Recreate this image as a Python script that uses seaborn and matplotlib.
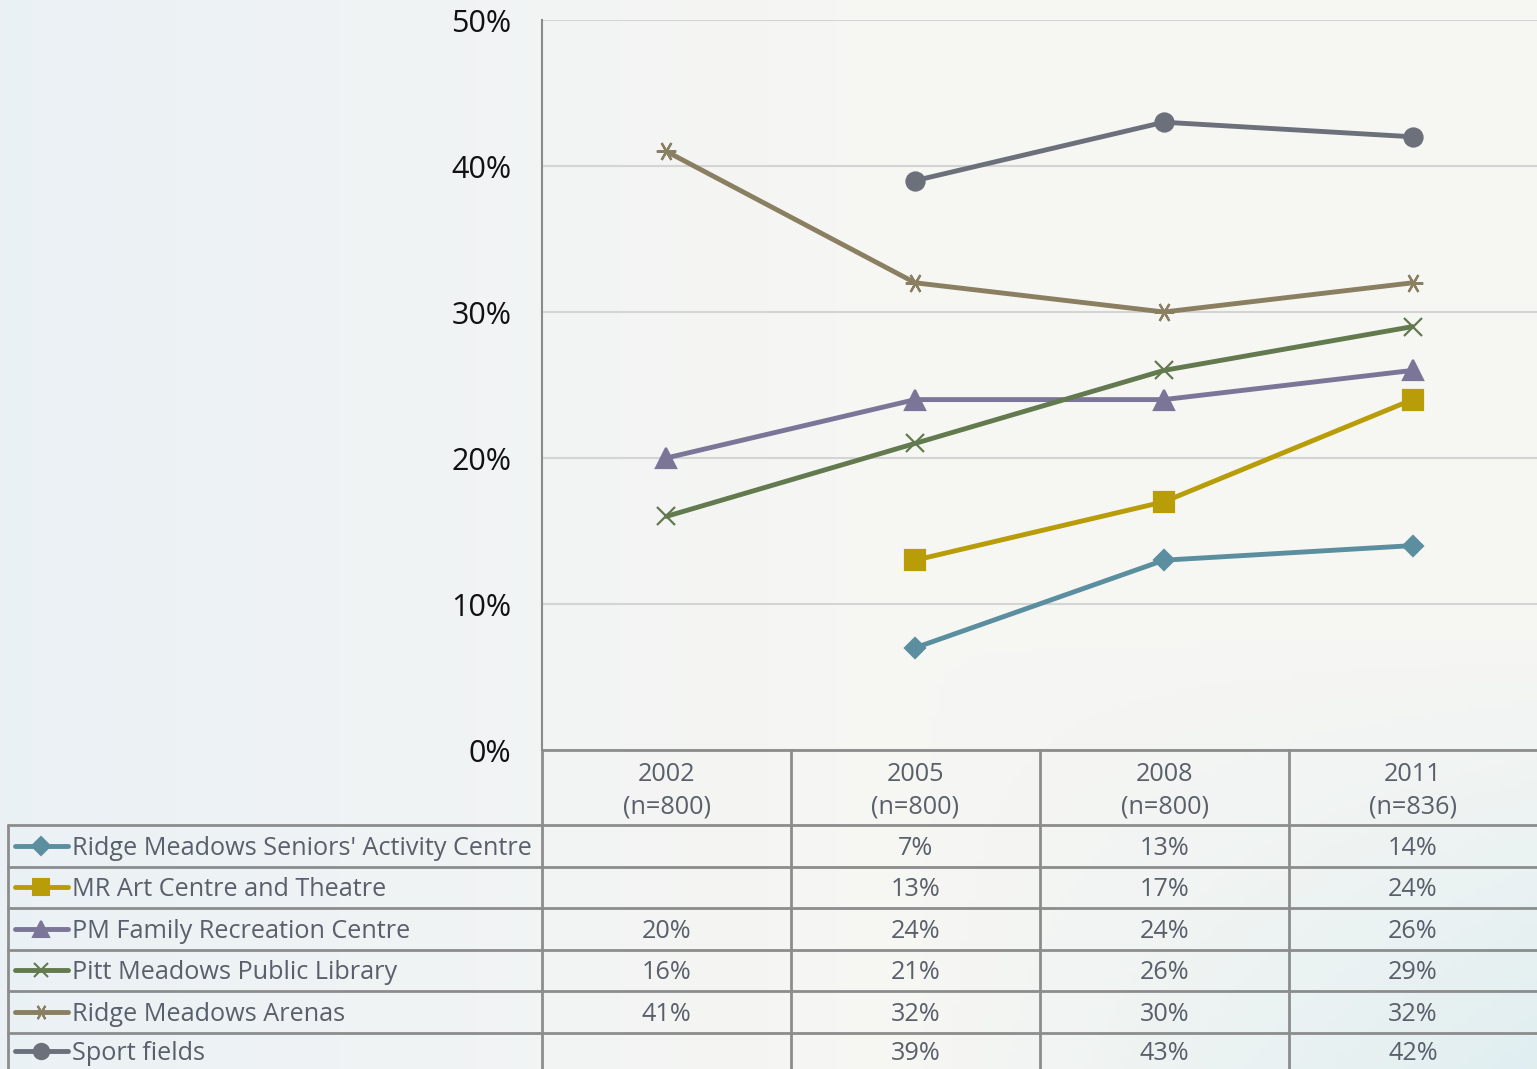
import numpy as np
import pandas as pd
import matplotlib
matplotlib.use("Agg")
import matplotlib.pyplot as plt
import seaborn as sns

# ---------------- data ----------------
years = ["2002", "2005", "2008", "2011"]
sample_sizes = ["(n=800)", "(n=800)", "(n=800)", "(n=836)"]
series_names = [
    "Ridge Meadows Seniors' Activity Centre",
    "MR Art Centre and Theatre",
    "PM Family Recreation Centre",
    "Pitt Meadows Public Library",
    "Ridge Meadows Arenas",
    "Sport fields",
]
seniors_centre = [np.nan, 7, 13, 14]
art_centre = [np.nan, 13, 17, 24]
family_rec = [20, 24, 24, 26]
public_library = [16, 21, 26, 29]
arenas = [41, 32, 30, 32]
sport_fields = [np.nan, 39, 43, 42]
series_values = [seniors_centre, art_centre, family_rec, public_library, arenas, sport_fields]
ytick_values = [0, 10, 20, 30, 40, 50]
ytick_labels = ["0%", "10%", "20%", "30%", "40%", "50%"]

colors = ["#5b8f9f", "#b89c08", "#7b7598", "#627a4e", "#8b7f62", "#6b707b"]
markers = ["D", "s", "^", "x", (6, 2, 90), "o"]
msizes = [10, 14, 14, 13, 14, 13]
key_sizes = [9, 12, 11, 10, 11, 11]

rows = []
for name, vals in zip(series_names, series_values):
    for i, v in enumerate(vals):
        rows.append({"series": name, "pos": i, "value": v})
df = pd.DataFrame(rows)

# ---------------- figure ----------------
W, H = 1537, 1069
sns.set_theme(style="white")
plt.rcParams["font.family"] = ["Open Sans", "DejaVu Sans"]

fig = plt.figure(figsize=(W / 100, H / 100), dpi=100)

# background gradient
bg = fig.add_axes([0, 0, 1, 1], zorder=-5)
xx, yy = np.meshgrid(np.linspace(0, 1, 200), np.linspace(0, 1, 200))
left_c = np.array([0.920, 0.945, 0.960])
mid_c = np.array([0.965, 0.965, 0.955])
br_c = np.array([0.880, 0.935, 0.945])
t = np.clip(xx / 0.55, 0, 1)[..., None]
img = left_c * (1 - t) + mid_c * t
w = (np.clip((xx - 0.6) / 0.4, 0, 1) * np.clip((yy - 0.6) / 0.4, 0, 1))[..., None]
img = img * (1 - w) + br_c * w
bg.imshow(img, aspect="auto", extent=[0, 1, 1, 0])
bg.axis("off")

# main plot axes
ax = fig.add_axes([542 / W, 1 - 750 / H, 995 / W, 730 / H])
ax.set_facecolor("none")
for name, col, mk, ms in zip(series_names, colors, markers, msizes):
    sub = df[df["series"] == name].dropna()
    sns.lineplot(data=sub, x="pos", y="value", ax=ax, color=col, lw=3.5,
                 marker=mk, markersize=ms, mec=col, mfc=col, mew=1.6,
                 legend=False, errorbar=None, sort=False)
ax.set_xlim(-0.5, 3.5)
ax.set_ylim(0, 50)
ax.set_yticks(ytick_values)
ax.set_yticklabels(ytick_labels, fontsize=22, color="#111111")
ax.set_xticks([])
ax.set_xlabel("")
ax.set_ylabel("")
ax.tick_params(axis="y", length=0, pad=22)
ax.yaxis.grid(True, color="#d4d4d4", lw=1.5)
ax.set_axisbelow(True)
for s in ["top", "right", "bottom"]:
    ax.spines[s].set_visible(False)
ax.spines["left"].set_color("#8a8a8a")
ax.spines["left"].set_linewidth(1.5)

# ---------------- data table ----------------
tab = fig.add_axes([0, 0, 1, 1], zorder=5)
tab.set_xlim(0, W)
tab.set_ylim(H, 0)
tab.axis("off")

lc = "#8c8c8c"
tc = "#5a606b"
fs = 18.2
dy = 2.5
col_edges = [542, 791, 1040, 1289, 1537]
col_centers = [(a + b) / 2 for a, b in zip(col_edges[:-1], col_edges[1:])]
row_edges = [825, 866.5, 908, 949.5, 991, 1032.5, 1074]

tab.plot([542, W], [750, 750], color=lc, lw=2)
for y in row_edges[:-1]:
    tab.plot([8, W], [y, y], color=lc, lw=2)
for x in col_edges[:-1]:
    tab.plot([x, x], [750, H], color=lc, lw=2)
tab.plot([8, 8], [825, H], color=lc, lw=2)

for xc, yr, n in zip(col_centers, years, sample_sizes):
    tab.text(xc, 772 + dy, yr, ha="center", va="center", fontsize=fs, color=tc)
    tab.text(xc, 804 + dy, n, ha="center", va="center", fontsize=fs, color=tc)

for i, (name, vals, col, mk, ks) in enumerate(zip(series_names, series_values, colors, markers, key_sizes)):
    yc = (row_edges[i] + row_edges[i + 1]) / 2 if i < 5 else 1051
    tab.plot([15, 68], [yc, yc], color=col, lw=3.5, solid_capstyle="round")
    tab.plot([41], [yc], marker=mk, color=col, mec=col, mfc=col, markersize=ks, mew=1.5)
    tab.text(72, yc + dy, name, ha="left", va="center", fontsize=fs, color=tc)
    for xc, v in zip(col_centers, vals):
        if not np.isnan(v):
            tab.text(xc, yc + dy, f"{int(v)}%", ha="center", va="center", fontsize=fs, color=tc)

fig.savefig("out.png", dpi=100)
